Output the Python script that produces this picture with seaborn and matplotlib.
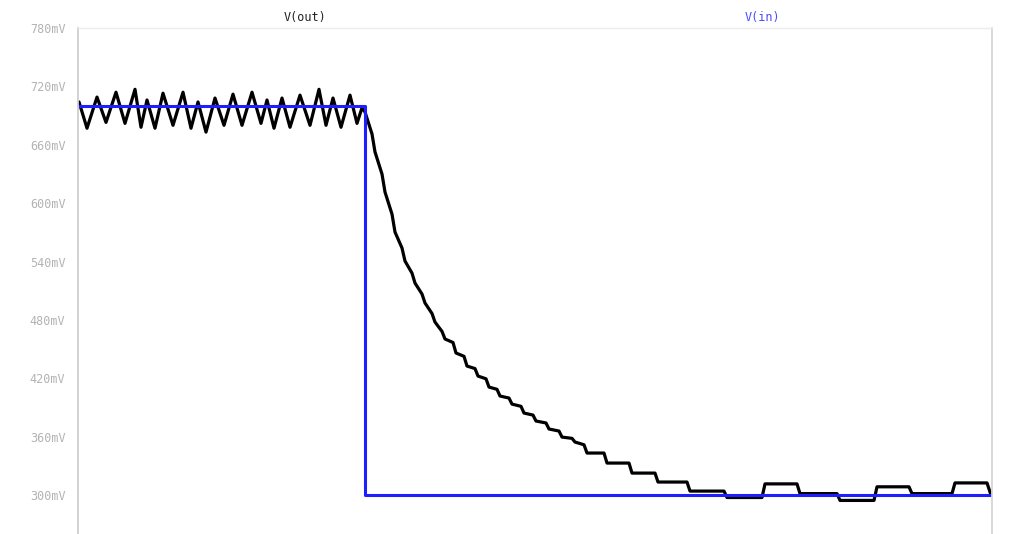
import matplotlib
matplotlib.use("Agg")
import matplotlib.pyplot as plt
import seaborn as sns
import pandas as pd

# Transient waveforms (time in microseconds, voltage in mV)
vin_t = [0.0, 28.6, 28.6, 91.2]
vin_mv = [700, 700, 300, 300]

# V(out): ripple around the 700 mV level, then the stepped decay to 300 mV
out_t = [
    0.0, 0.8, 1.8, 2.7, 3.7, 4.6, 5.6, 6.2, 6.8, 7.6, 8.4, 9.4, 10.4, 11.2,
    11.9, 12.7, 13.6, 14.5, 15.4, 16.3, 17.3, 18.2, 18.8, 19.5, 20.3, 21.1,
    22.1, 23.1, 24.0, 24.7, 25.4, 26.2, 27.1, 27.8, 28.3,
    28.6, 29.3, 29.6, 30.3, 30.6, 31.3, 31.6, 32.3, 32.6, 33.3, 33.6, 34.3,
    34.6, 35.3, 35.6, 36.3, 36.6, 37.4, 37.7, 38.5, 38.8, 39.6, 39.9, 40.7,
    41.0, 41.8, 42.1, 43.0, 43.3, 44.2, 44.5, 45.4, 45.7, 46.7, 47.0, 48.0,
    48.3, 49.3, 49.6, 50.5, 50.8, 52.5, 52.8, 55.0, 55.3, 57.6, 57.9, 60.8,
    61.1, 64.5, 64.8, 68.3, 68.6, 71.8, 72.1, 75.8, 76.1, 79.5, 79.8, 83.0,
    83.3, 87.3, 87.6, 90.8, 91.2,
]
out_mv = [
    704, 677, 709, 683, 714, 682, 717, 678, 706, 677, 713, 680, 714, 677,
    704, 673, 708, 680, 712, 680, 714, 682, 706, 677, 708, 678,
    711, 680, 717, 680, 708, 678, 711, 682, 698,
    693.7, 671.1, 652.6, 629.9, 611.4, 588.7, 570.3, 553.9, 540.5, 528.1, 517.9, 506.6,
    497.4, 486.6, 477.8, 468.2, 460.4, 456.8, 446.0, 442.6, 432.6, 430.0, 422.3, 419.5,
    411.0, 408.7, 401.8, 399.7, 393.5, 391.2, 384.3, 382.2, 376.1, 374.1, 367.9, 365.8,
    359.6, 358.3, 354.5, 351.7, 343.2, 343.2, 332.9, 332.9, 322.6, 322.6, 313.4, 313.4,
    304.1, 304.1, 297.5, 297.5, 311.5, 311.5, 301.5, 301.5, 294.5, 294.5, 308.5, 308.5,
    301.5, 301.5, 312.5, 312.5, 300.0,
]

y_ticks = [300, 360, 420, 480, 540, 600, 660, 720, 780]
y_tick_labels = [f"{v}mV" for v in y_ticks]
trace_names = ["V(out)", "V(in)"]
trace_colors = ["#000000", "#1e1eff"]

sns.set_style("white")
plt.rcParams["font.family"] = ["DejaVu Sans Mono"]

fig = plt.figure(figsize=(10.10, 5.34), dpi=100)
ax = fig.add_axes([78 / 1010, 0.0, 914 / 1010, 1 - 28 / 534])

out_df = pd.DataFrame({"t": out_t, "v": out_mv})
in_df = pd.DataFrame({"t": vin_t, "v": vin_mv})

sns.lineplot(data=out_df, x="t", y="v", ax=ax, sort=False, estimator=None,
             color=trace_colors[0], linewidth=2.3, solid_joinstyle="round")
sns.lineplot(data=in_df, x="t", y="v", ax=ax, sort=False, estimator=None,
             color=trace_colors[1], linewidth=2.2)

ax.set_xlim(-0.1, 91.3)
ax.set_ylim(260, 780)
ax.set_yticks(y_ticks)
ax.set_yticklabels(y_tick_labels)
ax.set_xticks([])
ax.set_xlabel("")
ax.set_ylabel("")

ax.tick_params(axis="y", direction="out", length=8, width=1.2, color="#cfcfcf",
               labelcolor="#b3b3b3", labelsize=8.5, pad=1)

ax.spines["bottom"].set_visible(False)
ax.spines["left"].set_color("#cfcfcf")
ax.spines["left"].set_linewidth(1.3)
ax.spines["top"].set_color("#ececec")
ax.spines["top"].set_linewidth(1.0)
ax.spines["right"].set_color("#d6d6d6")
ax.spines["right"].set_linewidth(1.3)

# Trace names above the plot area
fig.text(305 / 1010, 1 - 18 / 534, trace_names[0], color="#222222",
         fontsize=8.5, ha="center", va="center")
fig.text(762 / 1010, 1 - 18 / 534, trace_names[1], color="#4b4bff",
         fontsize=8.5, ha="center", va="center")

fig.savefig("out.png", dpi=100)
